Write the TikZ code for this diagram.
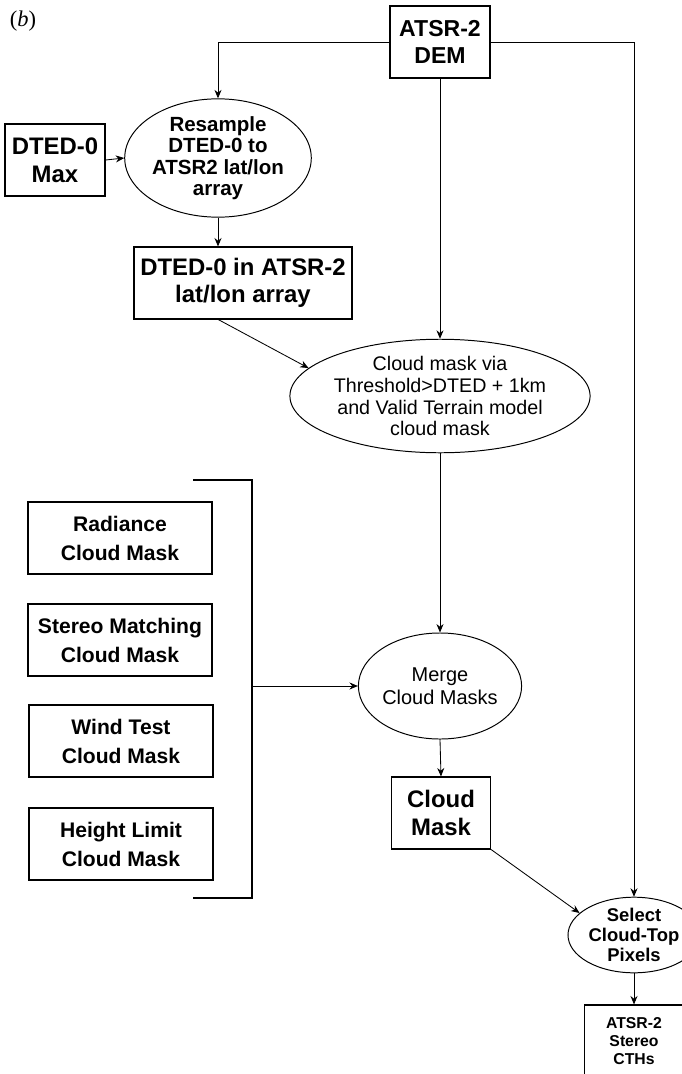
\documentclass[tikz,border=0pt]{standalone}
\usepackage{fontspec}
\setmainfont{Liberation Sans}
\newfontfamily\capfont{Liberation Serif}
\usetikzlibrary{arrows.meta, positioning, shapes.geometric}

\begin{document}
\begin{tikzpicture}[x=0.025cm, y=-0.025cm,
  box/.style={draw, line width=0.8pt, inner sep=0pt, align=center,
              minimum width=2.5cm, minimum height=1.8cm},
  oval/.style={draw, ellipse, line width=0.7pt, inner sep=0pt, align=center},
  link/.style={line width=0.6pt, -{Stealth[length=6pt, width=5pt]}},
  big/.style={font=\bfseries\fontsize{17}{19.6}\selectfont},
  mid/.style={font=\bfseries\fontsize{15}{20.6}\selectfont},
  thin/.style={font=\fontsize{14}{15.6}\selectfont}
]
  \useasboundingbox (0,0) rectangle (682,1074);
  \node[font=\capfont\fontsize{16}{18}\selectfont] (tag) at (23,21) {(\textit{b})};

  % sources
  \node[box, font=\bfseries\fontsize{16.4}{19.2}\selectfont] (dem) at (440,42) {ATSR-2\\DEM};
  \node[box, big] (dmax) at (55,160) {DTED-0\\Max};
  \node[oval, font=\bfseries\fontsize{14.6}{15.3}\selectfont,
        minimum width=3.7cm, minimum height=2.62cm] (resamp) at (218,158)
        {Resample\\DTED-0 to\\ATSR2 lat/lon\\array};
  \node[box, big, minimum width=5.45cm] (dtin) at (243,283) {DTED-0 in ATSR-2\\lat/lon array};
  \node[oval, thin, minimum width=7.3cm, minimum height=2.68cm] (cmask) at (440,396)
        {Cloud mask via\\Threshold>DTED + 1km\\and Valid Terrain model\\cloud mask};

  % other cloud masks
  \node[box, mid, minimum width=4.6cm] (rad)  at (120,538) {Radiance\\Cloud Mask};
  \node[box, mid, minimum width=4.6cm] (ster) at (120,640) {Stereo Matching\\Cloud Mask};
  \node[box, mid, minimum width=4.6cm] (wind) at (121,741) {Wind Test\\Cloud Mask};
  \node[box, mid, minimum width=4.6cm] (hlim) at (121,844) {Height Limit\\Cloud Mask};

  \node[oval, font=\fontsize{14.2}{16.4}\selectfont,
        minimum width=3.68cm, minimum height=2.65cm] (merge) at (440,686) {Merge\\Cloud Masks};
  \node[box, font=\bfseries\fontsize{17}{20}\selectfont, minimum width=2.48cm] (cm) at (441,813) {Cloud\\Mask};
  \node[oval, font=\bfseries\fontsize{13.1}{14.2}\selectfont,
        minimum width=3.3cm, minimum height=1.85cm] (select) at (634,935)
        {Select\\Cloud-Top\\Pixels};
  \node[box, font=\bfseries\fontsize{11.2}{12.6}\selectfont, minimum width=2.48cm] (cth) at (634,1041)
        {ATSR-2\\Stereo\\CTHs};

  \draw[link] (dem.west) -| (resamp.north);
  \draw[link] (dem.east) -| (select.north);
  \draw[link] (dem.south) -- (cmask.north);
  \draw[link] (dmax.east) -- (resamp.west);
  \draw[link] (resamp.south) -- (resamp.south |- dtin.north);
  \draw[link] (dtin.-124) -- (cmask.168);
  \draw[link] (cmask.south) -- (merge.north);

  % bracket
  \coordinate (brk) at (252,686);
  \draw[line width=0.8pt] (193,480) -- (252,480) -- (252,898) -- (193,898);
  \draw[link] (brk) -- (merge.west);

  \draw[link] (merge.south) -- (cm.north);
  \draw[link] (cm.south east) -- (select.158);
  \draw[link] (select.south) -- (cth.north);
\end{tikzpicture}
\end{document}
